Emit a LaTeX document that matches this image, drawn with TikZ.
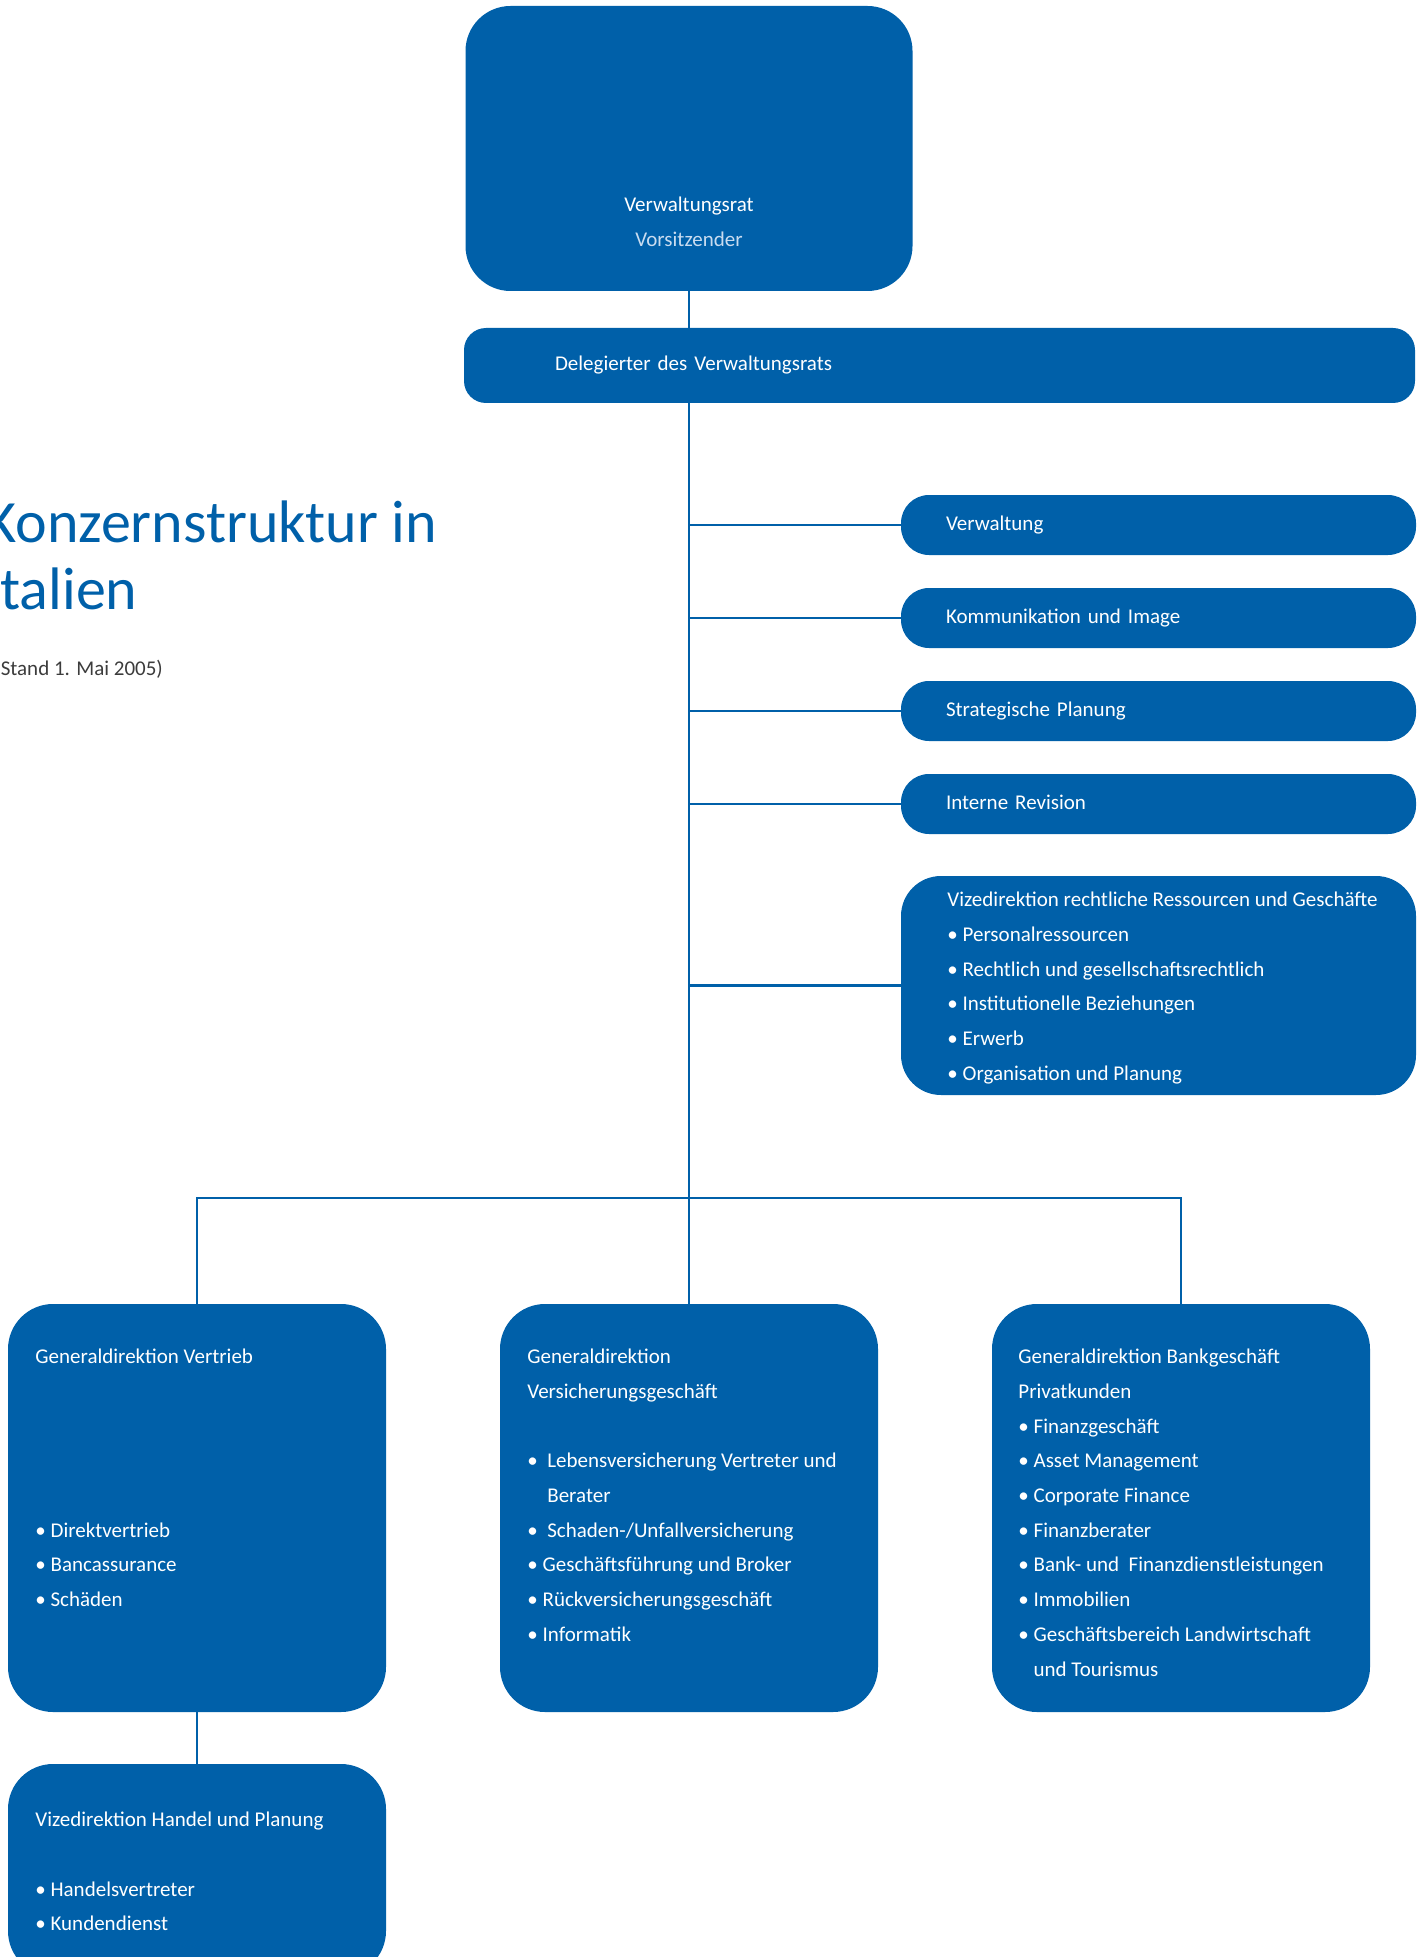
\documentclass[tikz,border=0pt]{standalone}
\usepackage{fontspec}
\setmainfont{Carlito}
\usetikzlibrary{positioning}
\definecolor{orgblue}{HTML}{0060A9}
\definecolor{palebl}{HTML}{C9DCF0}
\definecolor{greytxt}{HTML}{3C3C3C}

\begin{document}
\begin{tikzpicture}[x=0.5pt,y=-0.5pt,node distance=16.5pt and 57pt,
  unit/.style={fill=orgblue,draw=none,rounded corners=22.5pt,inner sep=0pt,outer sep=0pt},
  dept/.style={unit,minimum width=189pt,minimum height=204pt},
  bar/.style={unit,rounded corners=14pt,anchor=north west,minimum width=257.5pt,minimum height=30pt,
    text width=212.5pt,inner xsep=22.5pt,align=left,text height=8pt,text depth=3pt,
    text=white,font=\fontsize{10.5}{17.35}\selectfont},
  txt/.style={anchor=north west,inner sep=0pt,align=left,text=white,
    font=\fontsize{10.5}{17.35}\selectfont,execute at begin node=\strut},
  title/.style={anchor=north west,inner sep=0pt,align=left,text=orgblue,
    font=\fontsize{30}{33.5}\selectfont,execute at begin node=\strut},
  link/.style={draw=orgblue,line width=1.4pt}]
  \useasboundingbox (0,0) rectangle (1420,1957);

  % heading
  \node[title] (ttl) at (-15,500) {Konzernstruktur in\\Italien};
  \node[anchor=base west,inner sep=0pt,text=greytxt,font=\fontsize{10.5}{13}\selectfont]
    (stand) at (-6,675) {(Stand 1. Mai 2005)};

  % board and delegate
  \node[unit,anchor=north,minimum width=223.5pt,minimum height=142.5pt] (vr) at (689,6) {};
  \node[txt,align=center,anchor=north] (vrT) at ([shift={(0,190.7)}]vr.north)
    {Verwaltungsrat\\\color{palebl}Vorsitzender};
  \node[bar,rounded corners=11pt,minimum width=475.5pt,minimum height=37.5pt,
    text width=384.5pt,inner xsep=45.5pt] (del) at (464,328) {Delegierter des Verwaltungsrats};

  % staff units on the right
  \node[bar] (vw) at (901,495) {Verwaltung};
  \node[bar,below=of vw] (ki) {Kommunikation und Image};
  \node[bar,below=of ki] (sp) {Strategische Planung};
  \node[bar,below=of sp] (ir) {Interne Revision};
  \node[unit,rounded corners=20pt,minimum width=257.5pt,minimum height=109.5pt,below=21pt of ir] (vrg) {};
  \node[txt] (vrgT) at ([shift={(46,15.7)}]vrg.north west)
    {Vizedirektion rechtliche Ressourcen und Geschäfte\\• Personalressourcen\\
     • Rechtlich und gesellschaftsrechtlich\\• Institutionelle Beziehungen\\
     • Erwerb\\• Organisation und Planung};

  % general directorates
  \node[dept,anchor=north west] (gdv) at (8,1304) {};
  \node[dept,right=of gdv] (gvg) {};
  \node[dept,right=of gvg] (gdb) {};
  \node[dept,minimum height=106pt,below=26pt of gdv] (vhp) {};

  \node[txt] (gdvT) at ([shift={(27,44.7)}]gdv.north west)
    {Generaldirektion Vertrieb\\[69.4pt]• Direktvertrieb\\• Bancassurance\\• Schäden};
  \node[txt] (gvgT) at ([shift={(27,44.7)}]gvg.north west)
    {Generaldirektion\\Versicherungsgeschäft\\[17.35pt]
     •\ \ Lebensversicherung Vertreter und\\\phantom{•\ \ }Berater\\
     •\ \ Schaden-/Unfallversicherung\\• Geschäftsführung und Broker\\
     • Rückversicherungsgeschäft\\• Informatik};
  \node[txt] (gdbT) at ([shift={(26,44.7)}]gdb.north west)
    {Generaldirektion Bankgeschäft\\Privatkunden\\• Finanzgeschäft\\• Asset Management\\
     • Corporate Finance\\• Finanzberater\\• Bank- und\ \ Finanzdienstleistungen\\
     • Immobilien\\• Geschäftsbereich Landwirtschaft\\\phantom{• }und Tourismus};
  \node[txt] (vhpT) at ([shift={(27,47.7)}]vhp.north west)
    {Vizedirektion Handel und Planung\\[17.35pt]• Handelsvertreter\\• Kundendienst};

  % connectors
  \draw[link] (vr.south) -- (vr.south |- del.north);
  \draw[link] (vr.south |- del.south) -- (gvg.north);
  \foreach \n in {vw,ki,sp,ir,vrg}
    \draw[link] (gvg.north |- \n.west) -- (\n.west);
  \coordinate (bus) at (689,1198);
  \draw[link] (gdv.north) |- (bus) -| (gdb.north);
  \draw[link] (gdv.south) -- (vhp.north);
\end{tikzpicture}
\end{document}
